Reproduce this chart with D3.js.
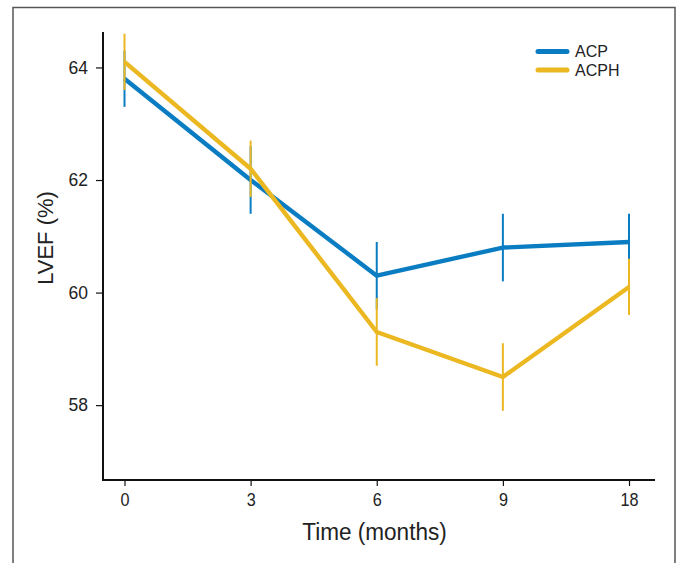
<!DOCTYPE html>
<html>
<head>
<meta charset="utf-8">
<script src="https://cdn.jsdelivr.net/npm/d3@7/dist/d3.min.js"></script>
<style>
  html, body { margin: 0; padding: 0; background: #fff; }
  svg { display: block; }
</style>
</head>
<body>
<svg id="chart" width="681" height="563"></svg>
<script>
// ---- data ----
const months = ["0", "3", "6", "9", "18"];
const acpMean = [63.8, 62.0, 60.3, 60.8, 60.9];
const acpErr  = [0.5, 0.6, 0.6, 0.6, 0.5];
const acphMean = [64.1, 62.2, 59.3, 58.5, 60.1];
const acphErr  = [0.5, 0.5, 0.6, 0.6, 0.5];
const yTicks = [58, 60, 62, 64];
const seriesNames = ["ACP", "ACPH"];
const seriesColors = ["#0a7cc2", "#ebb821"];

const svg = d3.select("#chart");

// frame
svg.append("rect")
  .attr("x", 13).attr("y", 7.5).attr("width", 662).attr("height", 620)
  .attr("fill", "none").attr("stroke", "#555").attr("stroke-width", 1.5);

const y = d3.scaleLinear().domain([56.67, 64.63]).range([480, 32]);
const x = d3.scalePoint().domain(months).range([124.5, 629]);

const axisColor = "#111";
const sans = "'Liberation Sans', Arial, Helvetica, sans-serif";

// y axis
const yAxis = svg.append("g").attr("transform", "translate(103,0)")
  .call(d3.axisLeft(y).tickValues(yTicks).tickSize(7).tickPadding(8).tickFormat(d3.format("d")));
yAxis.select(".domain").remove();
yAxis.selectAll(".tick line").attr("stroke", axisColor).attr("stroke-width", 1.2);
yAxis.selectAll(".tick text").attr("fill", "#222").style("font-family", sans).style("font-size", "17.5px");

// x axis
const xAxis = svg.append("g").attr("transform", "translate(0,480)")
  .call(d3.axisBottom(x).tickSize(6).tickPadding(0));
xAxis.select(".domain").remove();
xAxis.selectAll(".tick line").attr("stroke", axisColor).attr("stroke-width", 1.2);
xAxis.selectAll(".tick text")
  .attr("y", 0).attr("dy", 0)
  .attr("transform", "translate(0,25.5) scale(0.9,1)")
  .attr("fill", "#222").style("font-family", sans).style("font-size", "18px");

// axis lines
svg.append("line").attr("x1", 103).attr("x2", 103).attr("y1", 32).attr("y2", 481)
  .attr("stroke", axisColor).attr("stroke-width", 2);
svg.append("line").attr("x1", 102).attr("x2", 655).attr("y1", 480).attr("y2", 480)
  .attr("stroke", axisColor).attr("stroke-width", 2);

// titles
svg.append("text").attr("transform", "translate(374.5,540) scale(0.94,1)").attr("text-anchor", "middle")
  .style("font-family", sans).style("font-size", "24px").attr("fill", "#222")
  .text("Time (months)");
svg.append("text").attr("transform", "translate(53,238) rotate(-90)").attr("text-anchor", "middle")
  .style("font-family", sans).style("font-size", "22px").attr("fill", "#222")
  .text("LVEF (%)");

// series
const series = [
  { name: seriesNames[0], color: seriesColors[0], mean: acpMean, err: acpErr },
  { name: seriesNames[1], color: seriesColors[1], mean: acphMean, err: acphErr }
];
const line = d3.line().x((d, i) => x(months[i])).y(d => y(d));

series.forEach(s => {
  svg.append("path").datum(s.mean).attr("d", line)
    .attr("fill", "none").attr("stroke", s.color).attr("stroke-width", 4.4)
    .attr("stroke-linejoin", "round");
  svg.append("g").selectAll("line").data(s.mean).join("line")
    .attr("x1", (d, i) => x(months[i])).attr("x2", (d, i) => x(months[i]))
    .attr("y1", (d, i) => y(d - s.err[i])).attr("y2", (d, i) => y(d + s.err[i]))
    .attr("stroke", s.color).attr("stroke-width", 2);
});

// legend
const leg = svg.append("g");
series.forEach((s, i) => {
  const ly = 51.5 + i * 18.5;
  leg.append("line").attr("x1", 538).attr("x2", 567).attr("y1", ly).attr("y2", ly)
    .attr("stroke", s.color).attr("stroke-width", 5).attr("stroke-linecap", "round");
  leg.append("text").attr("x", 575).attr("y", ly).attr("dy", "0.36em")
    .style("font-family", sans).style("font-size", "16px").attr("fill", "#222")
    .text(s.name);
});
</script>
</body>
</html>
